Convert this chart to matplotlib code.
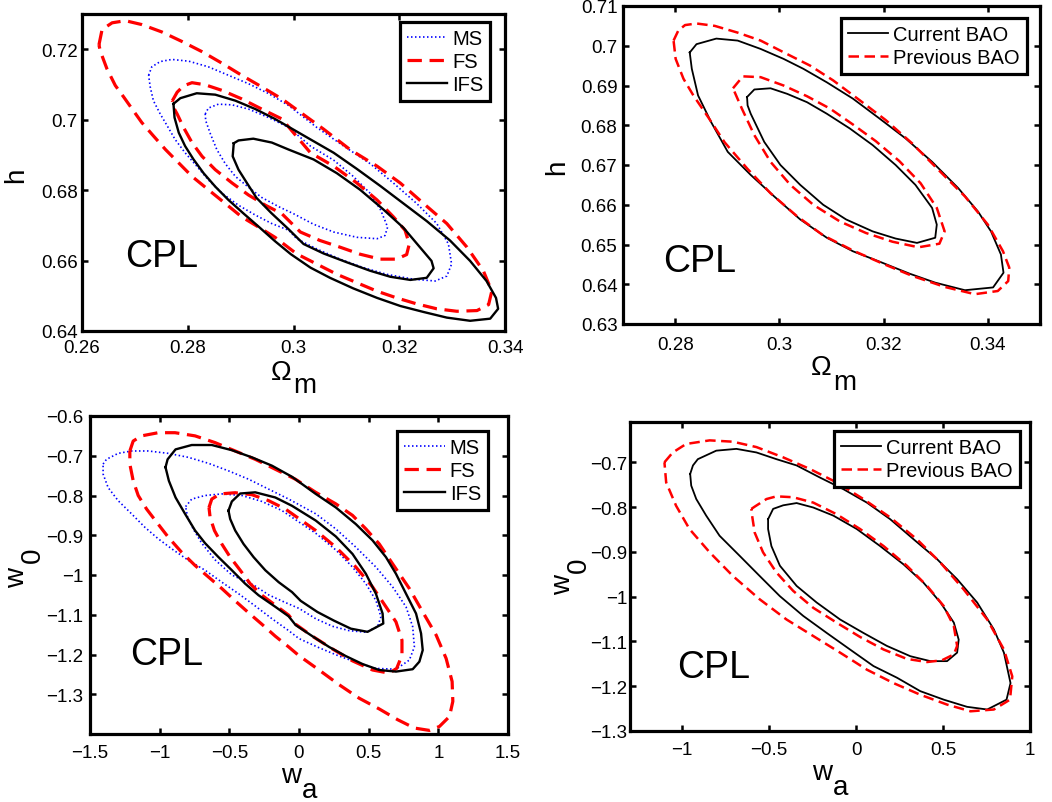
import numpy as np
import matplotlib

matplotlib.use("Agg")
import matplotlib.pyplot as plt  # noqa: E402
from matplotlib.ticker import FixedLocator, FuncFormatter  # noqa: E402

plt.rcParams["font.family"] = ["Liberation Sans", "DejaVu Sans"]

# ---------------------------------------------------------------- data
# contour vertices (x, y), 1-sigma = inner, 2-sigma = outer

# panel (a): Omega_m vs h, MS / FS / IFS
p1_ms_in = [(0.2833, 0.7016), (0.2839, 0.7033), (0.2858, 0.7044), (0.2884, 0.7042),
            (0.2915, 0.7030), (0.2953, 0.7006), (0.2991, 0.6978), (0.3032, 0.6925),
            (0.3076, 0.6885), (0.3113, 0.6839), (0.3145, 0.6791), (0.3165, 0.6743),
            (0.3178, 0.6695), (0.3173, 0.6671), (0.3158, 0.6662), (0.3120, 0.6666),
            (0.3076, 0.6681), (0.3038, 0.6703), (0.3000, 0.6733), (0.2972, 0.6753),
            (0.2940, 0.6779), (0.2915, 0.6808), (0.2890, 0.6839), (0.2871, 0.6875),
            (0.2855, 0.6915), (0.2843, 0.6959), (0.2834, 0.6997)]
p1_ms_out = [(0.2726, 0.7126), (0.2732, 0.7150), (0.2748, 0.7165), (0.2770, 0.7171),
             (0.2802, 0.7166), (0.2839, 0.7150), (0.2877, 0.7126), (0.2915, 0.7102),
             (0.2953, 0.7074), (0.2991, 0.7040), (0.3044, 0.6978), (0.3095, 0.6925),
             (0.3145, 0.6875), (0.3189, 0.6820), (0.3233, 0.6762), (0.3271, 0.6705),
             (0.3293, 0.6647), (0.3299, 0.6590), (0.3290, 0.6556), (0.3268, 0.6542),
             (0.3227, 0.6547), (0.3176, 0.6561), (0.3132, 0.6580), (0.3088, 0.6604),
             (0.3044, 0.6633), (0.3006, 0.6662), (0.2991, 0.6686), (0.2959, 0.6705),
             (0.2928, 0.6729), (0.2896, 0.6757), (0.2865, 0.6791), (0.2839, 0.6829),
             (0.2817, 0.6868), (0.2795, 0.6906), (0.2776, 0.6944), (0.2761, 0.6983),
             (0.2748, 0.7016), (0.2735, 0.7054), (0.2729, 0.7093)]
p1_fs_in = [(0.2771, 0.7054), (0.2780, 0.7078), (0.2792, 0.7096), (0.2808, 0.7105),
            (0.2833, 0.7099), (0.2865, 0.7083), (0.2902, 0.7059), (0.2940, 0.7030),
            (0.2978, 0.7002), (0.3032, 0.6906), (0.3076, 0.6868), (0.3120, 0.6820),
            (0.3158, 0.6772), (0.3189, 0.6724), (0.3211, 0.6686), (0.3219, 0.6647),
            (0.3214, 0.6617), (0.3195, 0.6604), (0.3164, 0.6604), (0.3126, 0.6618),
            (0.3088, 0.6638), (0.3050, 0.6657), (0.3013, 0.6681), (0.2978, 0.6733),
            (0.2947, 0.6757), (0.2915, 0.6786), (0.2884, 0.6820), (0.2852, 0.6858),
            (0.2827, 0.6896), (0.2808, 0.6935), (0.2792, 0.6978), (0.2780, 0.7016),
            (0.2773, 0.7035)]
p1_fs_out = [(0.2632, 0.7212), (0.2638, 0.7256), (0.2657, 0.7275), (0.2682, 0.7281),
             (0.2713, 0.7270), (0.2751, 0.7249), (0.2789, 0.7222), (0.2827, 0.7193),
             (0.2865, 0.7160), (0.2902, 0.7126), (0.2940, 0.7093), (0.2978, 0.7059),
             (0.3057, 0.6973), (0.3107, 0.6915), (0.3158, 0.6868), (0.3202, 0.6820),
             (0.3246, 0.6762), (0.3290, 0.6705), (0.3328, 0.6638), (0.3359, 0.6571),
             (0.3375, 0.6513), (0.3369, 0.6475), (0.3347, 0.6458), (0.3309, 0.6456),
             (0.3271, 0.6463), (0.3233, 0.6477), (0.3195, 0.6494), (0.3158, 0.6513),
             (0.3120, 0.6537), (0.3082, 0.6561), (0.3044, 0.6590), (0.3006, 0.6619),
             (0.2965, 0.6666), (0.2934, 0.6695), (0.2902, 0.6724), (0.2871, 0.6762),
             (0.2839, 0.6801), (0.2808, 0.6839), (0.2783, 0.6877), (0.2758, 0.6915),
             (0.2735, 0.6954), (0.2713, 0.6992), (0.2695, 0.7030), (0.2679, 0.7064),
             (0.2663, 0.7097), (0.2647, 0.7145), (0.2635, 0.7193)]
p1_ifs_in = [(0.2887, 0.6933), (0.2896, 0.6941), (0.2924, 0.6946), (0.2959, 0.6935),
             (0.2991, 0.6915), (0.3038, 0.6887), (0.3082, 0.6848), (0.3126, 0.6801),
             (0.3170, 0.6745), (0.3208, 0.6693), (0.3239, 0.6638), (0.3261, 0.6599),
             (0.3265, 0.6578), (0.3252, 0.6551), (0.3221, 0.6545), (0.3183, 0.6554),
             (0.3145, 0.6571), (0.3101, 0.6595), (0.3057, 0.6620), (0.3019, 0.6647),
             (0.2990, 0.6690), (0.2958, 0.6735), (0.2930, 0.6778), (0.2912, 0.6820),
             (0.2896, 0.6858), (0.2885, 0.6896)]
p1_ifs_out = [(0.2773, 0.7045), (0.2786, 0.7061), (0.2817, 0.7075), (0.2852, 0.7071),
              (0.2890, 0.7054), (0.2928, 0.7030), (0.2965, 0.7002), (0.3032, 0.6944),
              (0.3076, 0.6906), (0.3120, 0.6860), (0.3164, 0.6812), (0.3208, 0.6762),
              (0.3252, 0.6712), (0.3296, 0.6657), (0.3334, 0.6599), (0.3365, 0.6542),
              (0.3383, 0.6494), (0.3387, 0.6463), (0.3372, 0.6435), (0.3334, 0.6429),
              (0.3290, 0.6438), (0.3246, 0.6454), (0.3202, 0.6471), (0.3158, 0.6494),
              (0.3113, 0.6521), (0.3069, 0.6551), (0.3032, 0.6580), (0.2995, 0.6618),
              (0.2965, 0.6655), (0.2935, 0.6695), (0.2906, 0.6733), (0.2877, 0.6772),
              (0.2852, 0.6810), (0.2830, 0.6848), (0.2811, 0.6887), (0.2795, 0.6925),
              (0.2783, 0.6963), (0.2775, 0.7006)]

# panel (b): Omega_m vs h, current / previous BAO
p2_cur_in = [(0.2938, 0.6871), (0.2952, 0.6890), (0.2983, 0.6893), (0.3015, 0.6879),
             (0.3053, 0.6858), (0.3091, 0.6829), (0.3135, 0.6792), (0.3179, 0.6750),
             (0.3223, 0.6700), (0.3261, 0.6650), (0.3293, 0.6592), (0.3302, 0.6550),
             (0.3299, 0.6517), (0.3264, 0.6504), (0.3223, 0.6515), (0.3179, 0.6533),
             (0.3128, 0.6563), (0.3084, 0.6600), (0.3040, 0.6650), (0.3002, 0.6700),
             (0.2971, 0.6758), (0.2945, 0.6829), (0.2939, 0.6850)]
p2_cur_out = [(0.2828, 0.6983), (0.2841, 0.7004), (0.2879, 0.7018), (0.2920, 0.7013),
              (0.2964, 0.6992), (0.3008, 0.6967), (0.3046, 0.6942), (0.3091, 0.6908),
              (0.3141, 0.6867), (0.3192, 0.6817), (0.3242, 0.6767), (0.3293, 0.6708),
              (0.3343, 0.6642), (0.3381, 0.6583), (0.3406, 0.6533), (0.3425, 0.6475),
              (0.3430, 0.6429), (0.3410, 0.6392), (0.3356, 0.6385), (0.3299, 0.6404),
              (0.3249, 0.6427), (0.3192, 0.6457), (0.3141, 0.6483), (0.3091, 0.6517),
              (0.3040, 0.6563), (0.2990, 0.6621), (0.2945, 0.6675), (0.2901, 0.6733),
              (0.2869, 0.6808), (0.2844, 0.6875), (0.2832, 0.6942)]
p2_prev_in = [(0.2911, 0.6893), (0.2930, 0.6923), (0.2964, 0.6921), (0.3008, 0.6900),
              (0.3053, 0.6873), (0.3097, 0.6842), (0.3141, 0.6802), (0.3185, 0.6760),
              (0.3230, 0.6710), (0.3271, 0.6654), (0.3302, 0.6592), (0.3317, 0.6533),
              (0.3307, 0.6502), (0.3267, 0.6493), (0.3217, 0.6507), (0.3166, 0.6529),
              (0.3116, 0.6558), (0.3065, 0.6600), (0.3021, 0.6650), (0.2983, 0.6708),
              (0.2952, 0.6775), (0.2928, 0.6842)]
p2_prev_out = [(0.2797, 0.7013), (0.2806, 0.7038), (0.2819, 0.7052), (0.2841, 0.7056),
               (0.2876, 0.7050), (0.2920, 0.7033), (0.2964, 0.7013), (0.3015, 0.6979),
               (0.3059, 0.6950), (0.3103, 0.6913), (0.3154, 0.6863), (0.3204, 0.6813),
               (0.3255, 0.6754), (0.3305, 0.6688), (0.3356, 0.6621), (0.3400, 0.6550),
               (0.3429, 0.6483), (0.3441, 0.6442), (0.3439, 0.6408), (0.3419, 0.6383),
               (0.3375, 0.6375), (0.3318, 0.6393), (0.3255, 0.6421), (0.3198, 0.6452),
               (0.3141, 0.6485), (0.3084, 0.6523), (0.3034, 0.6571), (0.2983, 0.6629),
               (0.2939, 0.6690), (0.2895, 0.6757), (0.2863, 0.6821), (0.2835, 0.6875),
               (0.2816, 0.6917), (0.2801, 0.6967)]

# panel (c): w_a vs w_0, MS / FS / IFS
p3_ms_in = [(-0.814, -0.828), (-0.770, -0.809), (-0.674, -0.800), (-0.554, -0.796),
            (-0.410, -0.800), (-0.266, -0.815), (-0.122, -0.838), (0.120, -0.895),
            (0.264, -0.937), (0.384, -0.980), (0.480, -1.022), (0.552, -1.064),
            (0.588, -1.105), (0.564, -1.130), (0.480, -1.144), (0.360, -1.140),
            (0.240, -1.129), (0.120, -1.110), (0.000, -1.084), (-0.106, -1.068),
            (-0.218, -1.050), (-0.322, -1.026), (-0.482, -1.000), (-0.602, -0.962),
            (-0.698, -0.920), (-0.758, -0.885), (-0.799, -0.855)]
p3_ms_out = [(-1.406, -0.721), (-1.382, -0.709), (-1.298, -0.694), (-1.202, -0.688),
             (-1.082, -0.688), (-0.938, -0.694), (-0.794, -0.704), (-0.650, -0.719),
             (-0.506, -0.738), (-0.362, -0.759), (-0.218, -0.784), (-0.074, -0.809),
             (0.120, -0.846), (0.264, -0.884), (0.408, -0.930), (0.552, -0.980),
             (0.672, -1.030), (0.768, -1.080), (0.816, -1.130), (0.828, -1.181),
             (0.792, -1.214), (0.696, -1.237), (0.552, -1.235), (0.432, -1.222),
             (0.288, -1.204), (0.144, -1.183), (0.000, -1.160), (-0.074, -1.140),
             (-0.194, -1.110), (-0.314, -1.078), (-0.434, -1.047), (-0.554, -1.018),
             (-0.674, -0.988), (-0.794, -0.963), (-0.914, -0.934), (-1.010, -0.909),
             (-1.106, -0.880), (-1.202, -0.846), (-1.298, -0.813), (-1.370, -0.780),
             (-1.406, -0.746)]
p3_fs_in = [(-0.646, -0.830), (-0.626, -0.809), (-0.566, -0.796), (-0.458, -0.793),
            (-0.338, -0.798), (-0.218, -0.813), (-0.098, -0.834), (0.120, -0.888),
            (0.264, -0.930), (0.408, -0.980), (0.528, -1.030), (0.624, -1.080),
            (0.696, -1.118), (0.739, -1.164), (0.739, -1.202), (0.701, -1.235),
            (0.648, -1.247), (0.528, -1.239), (0.384, -1.216), (0.240, -1.186),
            (0.096, -1.154), (-0.024, -1.124), (-0.074, -1.101), (-0.170, -1.076),
            (-0.266, -1.051), (-0.350, -1.022), (-0.422, -0.988), (-0.494, -0.955),
            (-0.554, -0.922), (-0.607, -0.888), (-0.638, -0.855)]
p3_fs_out = [(-1.214, -0.688), (-1.190, -0.663), (-1.130, -0.650), (-1.010, -0.642),
             (-0.890, -0.642), (-0.746, -0.650), (-0.602, -0.667), (-0.458, -0.688),
             (-0.314, -0.709), (-0.170, -0.734), (-0.026, -0.759), (0.120, -0.792),
             (0.264, -0.821), (0.384, -0.850), (0.480, -0.884), (0.576, -0.922),
             (0.672, -0.972), (0.792, -1.034), (0.888, -1.093), (0.984, -1.151),
             (1.056, -1.210), (1.099, -1.268), (1.104, -1.318), (1.080, -1.356),
             (1.008, -1.381), (0.936, -1.391), (0.828, -1.385), (0.708, -1.364),
             (0.576, -1.337), (0.432, -1.310), (0.288, -1.276), (0.144, -1.239),
             (0.000, -1.203), (-0.074, -1.181), (-0.170, -1.154), (-0.266, -1.124),
             (-0.362, -1.095), (-0.458, -1.065), (-0.554, -1.034), (-0.650, -1.005),
             (-0.746, -0.976), (-0.842, -0.943), (-0.938, -0.905), (-1.022, -0.867),
             (-1.094, -0.834), (-1.154, -0.800), (-1.190, -0.763), (-1.214, -0.721)]
p3_ifs_in = [(-0.506, -0.838), (-0.482, -0.815), (-0.422, -0.795), (-0.314, -0.792),
             (-0.170, -0.805), (-0.050, -0.826), (0.120, -0.863), (0.264, -0.903),
             (0.384, -0.947), (0.480, -0.997), (0.552, -1.047), (0.600, -1.097),
             (0.605, -1.122), (0.492, -1.143), (0.372, -1.135), (0.252, -1.115),
             (0.132, -1.093), (0.012, -1.065), (-0.050, -1.043), (-0.146, -1.018),
             (-0.242, -0.988), (-0.326, -0.955), (-0.398, -0.922), (-0.458, -0.888),
             (-0.494, -0.859)]
p3_ifs_out = [(-0.958, -0.729), (-0.943, -0.709), (-0.886, -0.684), (-0.770, -0.673),
              (-0.626, -0.673), (-0.482, -0.686), (-0.338, -0.704), (-0.194, -0.725),
              (-0.050, -0.753), (0.120, -0.796), (0.264, -0.830), (0.408, -0.872),
              (0.528, -0.913), (0.624, -0.955), (0.696, -0.997), (0.768, -1.047),
              (0.840, -1.097), (0.876, -1.147), (0.888, -1.189), (0.864, -1.218),
              (0.816, -1.237), (0.696, -1.243), (0.576, -1.239), (0.456, -1.224),
              (0.336, -1.204), (0.216, -1.181), (0.096, -1.154), (-0.024, -1.126),
              (-0.074, -1.104), (-0.170, -1.080), (-0.290, -1.051), (-0.386, -1.022),
              (-0.482, -0.988), (-0.578, -0.955), (-0.674, -0.920), (-0.746, -0.888),
              (-0.818, -0.846), (-0.886, -0.805), (-0.934, -0.763)]

# panel (d): w_a vs w_0, current / previous BAO
p4_cur_in = [(-0.506, -0.827), (-0.477, -0.804), (-0.419, -0.796), (-0.342, -0.791),
             (-0.246, -0.801), (-0.131, -0.819), (0.004, -0.849), (0.138, -0.887),
             (0.273, -0.928), (0.388, -0.969), (0.485, -1.013), (0.562, -1.058),
             (0.590, -1.096), (0.581, -1.125), (0.523, -1.144), (0.427, -1.144),
             (0.312, -1.133), (0.177, -1.110), (0.042, -1.081), (-0.092, -1.051),
             (-0.227, -1.013), (-0.342, -0.976), (-0.438, -0.931), (-0.487, -0.887),
             (-0.506, -0.849)]
p4_cur_out = [(-0.954, -0.726), (-0.938, -0.707), (-0.910, -0.693), (-0.804, -0.674),
              (-0.688, -0.670), (-0.573, -0.678), (-0.458, -0.693), (-0.342, -0.707),
              (-0.208, -0.734), (-0.073, -0.760), (0.062, -0.790), (0.196, -0.827),
              (0.331, -0.872), (0.465, -0.916), (0.581, -0.961), (0.696, -1.013),
              (0.792, -1.073), (0.850, -1.125), (0.888, -1.193), (0.865, -1.230),
              (0.754, -1.252), (0.638, -1.246), (0.504, -1.230), (0.369, -1.211),
              (0.235, -1.181), (0.100, -1.155), (-0.035, -1.118), (-0.169, -1.081),
              (-0.304, -1.043), (-0.438, -0.999), (-0.554, -0.954), (-0.669, -0.909),
              (-0.785, -0.864), (-0.862, -0.819), (-0.919, -0.782), (-0.948, -0.752)]
p4_prev_in = [(-0.602, -0.804), (-0.583, -0.799), (-0.515, -0.782), (-0.458, -0.776),
              (-0.362, -0.778), (-0.246, -0.790), (-0.112, -0.816), (0.023, -0.849),
              (0.158, -0.887), (0.292, -0.931), (0.408, -0.976), (0.504, -1.021),
              (0.562, -1.066), (0.581, -1.110), (0.562, -1.129), (0.494, -1.142),
              (0.408, -1.146), (0.292, -1.139), (0.158, -1.118), (0.023, -1.090),
              (-0.112, -1.058), (-0.246, -1.025), (-0.362, -0.987), (-0.458, -0.946),
              (-0.535, -0.901), (-0.583, -0.857), (-0.598, -0.819)]
p4_prev_out = [(-1.102, -0.700), (-1.054, -0.678), (-0.977, -0.659), (-0.842, -0.651),
               (-0.708, -0.654), (-0.573, -0.666), (-0.419, -0.689), (-0.265, -0.715),
               (-0.112, -0.745), (0.042, -0.782), (0.196, -0.823), (0.350, -0.872),
               (0.485, -0.924), (0.619, -0.984), (0.754, -1.051), (0.850, -1.118),
               (0.898, -1.178), (0.885, -1.230), (0.792, -1.252), (0.658, -1.256),
               (0.523, -1.241), (0.369, -1.219), (0.215, -1.193), (0.062, -1.163),
               (-0.092, -1.125), (-0.246, -1.088), (-0.400, -1.051), (-0.554, -1.006),
               (-0.708, -0.954), (-0.842, -0.901), (-0.958, -0.849), (-1.035, -0.797),
               (-1.092, -0.745)]

# axis ranges and ticks
p1_xlim, p1_ylim = (0.26, 0.34), (0.64, 0.73)
p1_xticks = [0.26, 0.28, 0.30, 0.32, 0.34]
p1_yticks = [0.64, 0.66, 0.68, 0.70, 0.72]
p2_xlim, p2_ylim = (0.27, 0.35), (0.63, 0.71)
p2_xticks = [0.28, 0.30, 0.32, 0.34]
p2_yticks = [0.63, 0.64, 0.65, 0.66, 0.67, 0.68, 0.69, 0.70, 0.71]
p3_xlim, p3_ylim = (-1.5, 1.5), (-1.4, -0.6)
p3_xticks = [-1.5, -1.0, -0.5, 0.0, 0.5, 1.0, 1.5]
p3_yticks = [-1.3, -1.2, -1.1, -1.0, -0.9, -0.8, -0.7, -0.6]
p4_xlim, p4_ylim = (-1.3, 1.0), (-1.3, -0.61)
p4_xticks = [-1.0, -0.5, 0.0, 0.5, 1.0]
p4_yticks = [-1.3, -1.2, -1.1, -1.0, -0.9, -0.8, -0.7]

# ---------------------------------------------------------------- styles
MS = dict(color="#0000ff", lw=1.2, ls=(0, (0.9, 1.5)))
FS = dict(color="#ff0000", lw=2.3, ls=(0, (4.5, 2.4)))
IFS = dict(color="black", lw=1.7, ls="-")
CUR = dict(color="black", lw=1.3, ls="-")
PREV = dict(color="#ff0000", lw=1.8, ls=(0, (4.2, 2.2)))
SPINE_W = 2.3
TICK_FS = 13.5
W, H = 1052, 803


def closed(pts):
    a = np.array(list(pts) + [pts[0]])
    return a[:, 0], a[:, 1]


def fmt(v, _pos=None):
    s = "%g" % round(v, 4)
    return s.replace("-", "\u2212")


def px(x, y):
    """figure fraction from reference pixel position"""
    return x / W, 1 - y / H


def style_axes(ax, xlim, ylim, xticks, yticks, xpad, ypad):
    ax.set_xlim(*xlim)
    ax.set_ylim(*ylim)
    ax.xaxis.set_major_locator(FixedLocator(xticks))
    ax.yaxis.set_major_locator(FixedLocator(yticks))
    ax.xaxis.set_major_formatter(FuncFormatter(fmt))
    ax.yaxis.set_major_formatter(FuncFormatter(fmt))
    ax.tick_params(direction="in", length=4, width=1.8, top=True, right=True,
                   labelsize=TICK_FS)
    ax.tick_params(axis="x", pad=xpad)
    ax.tick_params(axis="y", pad=ypad)
    for s in ax.spines.values():
        s.set_linewidth(SPINE_W)


def legend(ax, right, top, size):
    leg = ax.legend(loc="upper right", bbox_to_anchor=(right, top), fontsize=size,
                    frameon=True, fancybox=False, framealpha=1, edgecolor="black",
                    borderaxespad=0, handlelength=2.0, handletextpad=0.25,
                    labelspacing=0.2, borderpad=0.35)
    leg.get_frame().set_linewidth(SPINE_W)
    return leg


fig = plt.figure(figsize=(W / 100, H / 100), dpi=100)
ax1 = fig.add_axes([82 / W, 1 - 332 / H, 423 / W, 317 / H])
ax2 = fig.add_axes([623 / W, 1 - 325 / H, 417 / W, 318 / H])
ax3 = fig.add_axes([90 / W, 1 - 735 / H, 418 / W, 318 / H])
ax4 = fig.add_axes([630 / W, 1 - 732 / H, 400 / W, 309 / H])

# panel (a)
ax1.plot(*closed(p1_ms_out), label="MS", **MS)
ax1.plot(*closed(p1_ms_in), **MS)
ax1.plot(*closed(p1_fs_out), label="FS", **FS)
ax1.plot(*closed(p1_fs_in), **FS)
ax1.plot(*closed(p1_ifs_out), label="IFS", **IFS)
ax1.plot(*closed(p1_ifs_in), **IFS)
style_axes(ax1, p1_xlim, p1_ylim, p1_xticks, p1_yticks, 6, 3)
legend(ax1, 0.965, 0.975, 14.5)
ax1.text(0.102, 0.205, "CPL", transform=ax1.transAxes, fontsize=27, va="baseline")

# panel (b)
ax2.plot(*closed(p2_cur_out), label="Current BAO", **CUR)
ax2.plot(*closed(p2_cur_in), **CUR)
ax2.plot(*closed(p2_prev_out), label="Previous BAO", **PREV)
ax2.plot(*closed(p2_prev_in), **PREV)
style_axes(ax2, p2_xlim, p2_ylim, p2_xticks, p2_yticks, 9, 4)
legend(ax2, 0.969, 0.962, 14.5)
ax2.text(0.096, 0.167, "CPL", transform=ax2.transAxes, fontsize=27, va="baseline")

# panel (c)
ax3.plot(*closed(p3_ms_out), label="MS", **MS)
ax3.plot(*closed(p3_ms_in), **MS)
ax3.plot(*closed(p3_fs_out), label="FS", **FS)
ax3.plot(*closed(p3_fs_in), **FS)
ax3.plot(*closed(p3_ifs_out), label="IFS", **IFS)
ax3.plot(*closed(p3_ifs_in), **IFS)
style_axes(ax3, p3_xlim, p3_ylim, p3_xticks, p3_yticks, 7, 5)
legend(ax3, 0.952, 0.953, 14.5)
ax3.text(0.096, 0.22, "CPL", transform=ax3.transAxes, fontsize=27, va="baseline")

# panel (d)
ax4.plot(*closed(p4_cur_out), label="Current BAO", **CUR)
ax4.plot(*closed(p4_cur_in), **CUR)
ax4.plot(*closed(p4_prev_out), label="Previous BAO", **PREV)
ax4.plot(*closed(p4_prev_in), **PREV)
style_axes(ax4, p4_xlim, p4_ylim, p4_xticks, p4_yticks, 7, 2)
legend(ax4, 0.975, 0.971, 14.5)
ax4.text(0.117, 0.175, "CPL", transform=ax4.transAxes, fontsize=27, va="baseline")

# axis labels (MATLAB style: full-size subscript)
LAB = 20
for (bx, by, sx, sy, base, sub) in [(271, 380, 293, 393, "\u03a9", "m"),
                                     (811, 375, 833, 390, "\u03a9", "m"),
                                     (281, 783, 302, 798, "w", "a"),
                                     (812, 780, 833, 795, "w", "a")]:
    fig.text(*px(bx, by), base, fontsize=LAB, ha="left", va="baseline")
    fig.text(*px(sx, sy), sub, fontsize=LAB, ha="left", va="baseline")

fig.text(*px(16, 175), "h", fontsize=LAB, rotation=90, ha="center", va="center")
fig.text(*px(557, 167), "h", fontsize=LAB, rotation=90, ha="center", va="center")
for (wx, wy, zx, zy) in [(17.5, 578, 32.5, 555), (563.5, 585, 578.5, 565)]:
    fig.text(*px(wx, wy), "w", fontsize=LAB, rotation=90, ha="center", va="center")
    fig.text(*px(zx, zy), "0", fontsize=LAB, rotation=90, ha="center", va="center")

fig.savefig("out.png", dpi=100, facecolor="white")
